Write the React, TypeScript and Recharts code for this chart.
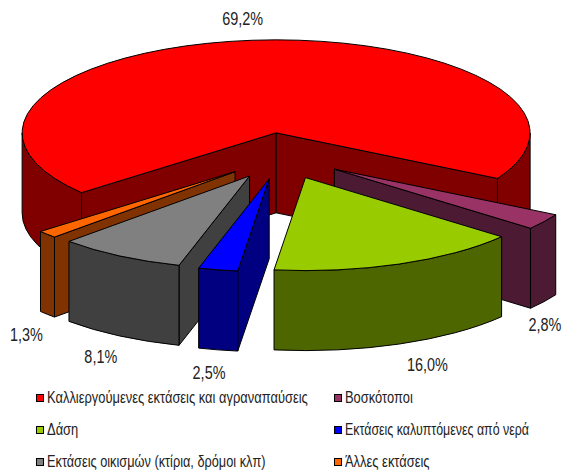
import { PieChart, Pie, Legend } from "recharts"

const categories = [
  "Καλλιεργούμενες εκτάσεις και αγραναπαύσεις",
  "Βοσκότοποι",
  "Δάση",
  "Εκτάσεις καλυπτόμενες από νερά",
  "Εκτάσεις οικισμών (κτίρια, δρόμοι κλπ)",
  "Άλλες εκτάσεις",
]
const shares = [69.2, 2.8, 16.0, 2.5, 8.1, 1.3]

const topColors = ["#ff0000", "#993366", "#99cc00", "#0000ff", "#808080", "#ff6600"]
const sideColors = ["#800000", "#4d1a33", "#4d6600", "#000080", "#404040", "#803300"]

// front slices have to cover the ones behind them, this is not the clockwise order
const drawOrder = [0, 1, 2, 5, 4, 3]

// where the percent labels sit relative to the exploded rim point
const labelShift = [
  [-10, -22],
  [1, 102],
  [28, 100],
  [-9, 102],
  [-19, 100],
  [-21, 100],
]

// the original text is squeezed sideways, not by the same amount everywhere
const legendSqueeze = [0.76, 0.76, 0.76, 0.73, 0.75, 0.76]

const RX = 254
const RY = 93
const DEPTH = 80
const EXPLODE = 0.25

const slices = categories.map((name, i) => ({ name, value: shares[i], idx: i }))

const rad = (deg: number) => (deg * Math.PI) / 180

// angles here are clockwise from the top
const rim = (ax: number, ay: number, t: number) => [
  ax + RX * Math.sin(rad(t)),
  ay - RY * Math.cos(rad(t)),
]

function apexOf(cx: number, cy: number, midAngle: number) {
  const t = 90 - midAngle
  const [x, y] = rim(0, 0, t)
  return [cx + x * EXPLODE, cy + y * EXPLODE]
}

function wallPath(ax: number, ay: number, a: number, b: number) {
  const [x1, y1] = rim(ax, ay, a)
  const [x2, y2] = rim(ax, ay, b)
  const large = b - a > 180 ? 1 : 0
  return `M${x1},${y1} A${RX},${RY} 0 ${large} 1 ${x2},${y2} L${x2},${y2 + DEPTH} A${RX},${RY} 0 ${large} 0 ${x1},${y1 + DEPTH} Z`
}

function radialPath(ax: number, ay: number, t: number) {
  const [x, y] = rim(ax, ay, t)
  return `M${ax},${ay} L${x},${y} L${x},${y + DEPTH} L${ax},${ay + DEPTH} Z`
}

function Slice3D(props: any) {
  const { cx, cy, midAngle, startAngle, endAngle, idx } = props
  const [ax, ay] = apexOf(cx, cy, midAngle)
  const t0 = 90 - startAngle
  const t1 = 90 - endAngle
  const [x0, y0] = rim(ax, ay, t0)
  const [x1, y1] = rim(ax, ay, t1)
  const large = t1 - t0 > 180 ? 1 : 0
  const s0 = ((t0 % 360) + 360) % 360
  const s1 = ((t1 % 360) + 360) % 360
  const side = { fill: sideColors[idx], stroke: "#000", strokeWidth: 1, strokeLinejoin: "round" as const }

  // only the front half of the rim can be seen
  const walls: string[] = []
  for (const shift of [0, 360]) {
    const a = Math.max(t0, 90 + shift)
    const b = Math.min(t1, 270 + shift)
    if (b > a) walls.push(wallPath(ax, ay, a, b))
  }

  return (
    <g>
      {s0 > 180 && <path d={radialPath(ax, ay, t0)} {...side} />}
      {s1 < 180 && <path d={radialPath(ax, ay, t1)} {...side} />}
      {walls.map((d) => (
        <path key={d} d={d} {...side} />
      ))}
      <path
        d={`M${ax},${ay} L${x0},${y0} A${RX},${RY} 0 ${large} 1 ${x1},${y1} Z`}
        fill={topColors[idx]}
        stroke="#000"
        strokeWidth={1}
        strokeLinejoin="round"
      />
    </g>
  )
}

function percentLabel(props: any) {
  const { cx, cy, midAngle, idx, value } = props
  const [ax, ay] = apexOf(cx, cy, midAngle)
  const [x, y] = rim(ax, ay, 90 - midAngle)
  const [dx, dy] = labelShift[idx]
  return (
    <text
      transform={`translate(${x + dx},${y + dy + 7}) scale(0.76,1)`}
      textAnchor="middle"
      fontFamily="Liberation Sans"
      fontSize={19}
      fill="#222"
      stroke="none"
    >
      {value.toFixed(1).replace(".", ",") + "%"}
    </text>
  )
}

const legendRows = [
  { top: 388, items: [0, 1] },
  { top: 420, items: [2, 3] },
  { top: 452, items: [4, 5] },
]
const legendColumns = [36, 334]

function LegendBlock() {
  return (
    <div style={{ position: "relative", width: 563, height: 90 }}>
      {legendRows.map((row) =>
        row.items.map((i, col) => (
          <div key={i}>
            <div
              style={{
                position: "absolute",
                left: legendColumns[col],
                top: row.top - 380 + 6,
                width: 6,
                height: 6,
                background: topColors[i],
                border: "1px solid #000",
              }}
            />
            <div
              style={{
                position: "absolute",
                left: legendColumns[col] + 11,
                top: row.top - 380,
                fontFamily: "Liberation Sans",
                fontSize: 17,
                lineHeight: "20px",
                color: "#222",
                whiteSpace: "nowrap",
                transform: `scaleX(${legendSqueeze[i]})`,
                transformOrigin: "left center",
              }}
            >
              {categories[i]}
            </div>
          </div>
        )),
      )}
    </div>
  )
}

export default function App() {
  return (
    <div style={{ position: "absolute", left: 0, top: 0, width: 563, height: 470, background: "#fff" }}>
      <PieChart width={563} height={470} margin={{ top: 0, right: 0, bottom: 0, left: 0 }}>
        {drawOrder.map((i) => (
          <Pie
            key={i}
            data={slices}
            dataKey="value"
            nameKey="name"
            cx={282}
            cy={156}
            outerRadius={RX}
            startAngle={-140}
            endAngle={-500}
            isAnimationActive={false}
            labelLine={false}
            label={(p: any) => (p.idx === i ? percentLabel(p) : null)}
            shape={(p: any) => (p.idx === i ? <Slice3D {...p} /> : <g />)}
          />
        ))}
        <Legend
          content={<LegendBlock />}
          wrapperStyle={{ position: "absolute", left: 0, top: 380, width: 563, height: 90 }}
        />
      </PieChart>
    </div>
  )
}
